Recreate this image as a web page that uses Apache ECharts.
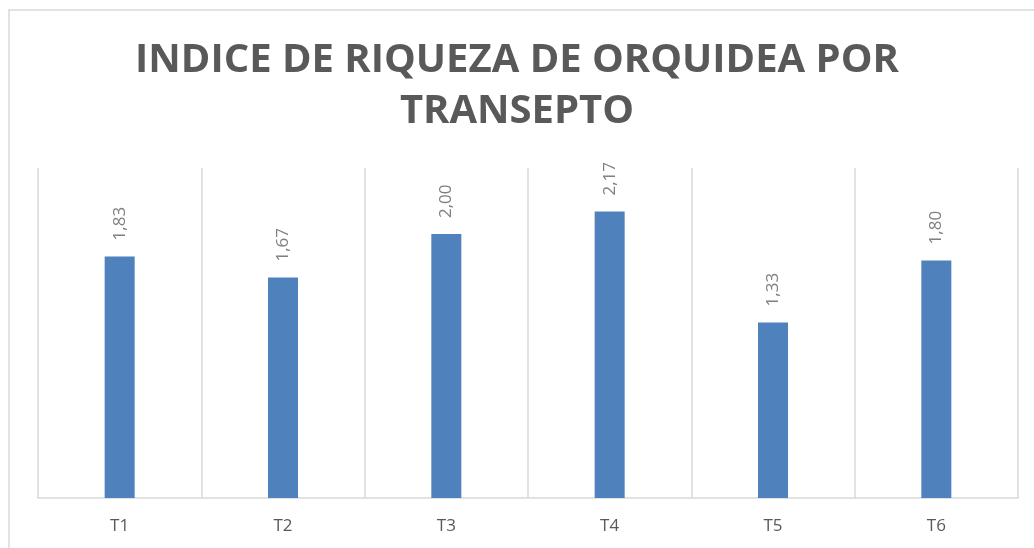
<!DOCTYPE html>
<html>
<head>
<meta charset="utf-8">
<script src="https://cdn.jsdelivr.net/npm/echarts@6/dist/echarts.min.js"></script>
<style>
  html, body { margin: 0; padding: 0; background: #fff; }
  #chart { width: 1034px; height: 548px; }
</style>
</head>
<body>
<div id="chart"></div>
<script>
var titleText = 'INDICE DE RIQUEZA DE ORQUIDEA POR\nTRANSEPTO';
var categories = ['T1', 'T2', 'T3', 'T4', 'T5', 'T6'];
var values = [1.83, 1.67, 2.00, 2.17, 1.33, 1.80];

var myChart = echarts.init(document.getElementById('chart'));
var option = {
  animation: false,
  backgroundColor: '#fff',
  title: {
    text: titleText,
    left: 'center',
    top: 30,
    textStyle: {
      fontFamily: 'Open Sans',
      fontWeight: 'bold',
      fontSize: 40,
      lineHeight: 51,
      color: '#595959'
    }
  },
  graphic: [{
    type: 'rect',
    shape: { x: 9, y: 10, width: 1100, height: 600 },
    style: { fill: 'none', stroke: '#d9d9d9', lineWidth: 1.5 },
    silent: true
  }],
  grid: { left: 38, right: 16, top: 168, bottom: 50 },
  xAxis: {
    type: 'category',
    data: categories,
    axisLine: { lineStyle: { color: '#d9d9d9', width: 1.5 } },
    axisTick: { show: false },
    splitLine: { show: true, lineStyle: { color: '#d9d9d9', width: 1.5 } },
    axisLabel: {
      margin: 20,
      fontFamily: 'Open Sans',
      fontSize: 17,
      color: '#595959'
    }
  },
  yAxis: {
    type: 'value',
    min: 0,
    max: 2.5,
    show: false,
    splitLine: { show: false }
  },
  series: [{
    type: 'bar',
    data: values,
    barWidth: 30,
    itemStyle: { color: '#4f81bd' },
    label: {
      show: true,
      position: 'top',
      rotate: 90,
      align: 'left',
      verticalAlign: 'middle',
      distance: 16,
      fontFamily: 'Open Sans',
      fontSize: 17,
      color: '#7f7f7f',
      formatter: function (p) { return p.value.toFixed(2).replace('.', ','); }
    }
  }]
};
myChart.setOption(option);
</script>
</body>
</html>
